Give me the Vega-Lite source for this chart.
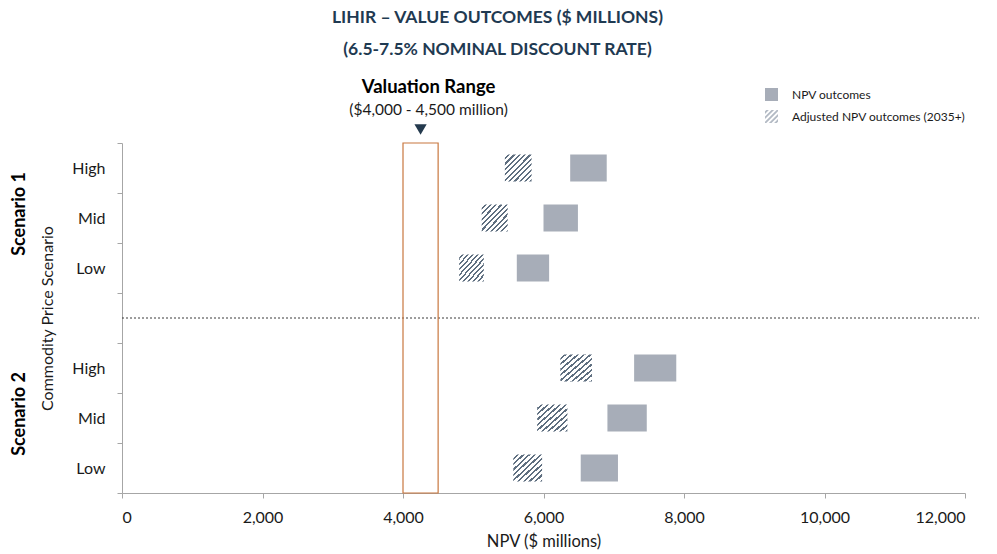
{
  "$schema": "https://vega.github.io/schema/vega-lite/v6.json",
  "autosize": {"type": "none"},
  "padding": {"left": 122, "top": 143, "right": 32, "bottom": 61},
  "width": 843,
  "height": 350,
  "background": "white",
  "config": {
    "font": "Lato",
    "view": {"stroke": null}
  },
  "title": {
    "text": ["LIHIR – VALUE OUTCOMES ($ MILLIONS)", "(6.5-7.5% NOMINAL DISCOUNT RATE)"],
    "fontSize": 17.5,
    "fontWeight": "bold",
    "color": "#1f3a52",
    "lineHeight": 32,
    "anchor": "middle",
    "frame": "group",
    "dx": -46,
    "offset": 20
  },
  "datasets": {
    "bars": [
      {"row": "S1 High", "type": "Adjusted NPV outcomes (2035+)", "low": 5450, "high": 5830},
      {"row": "S1 High", "type": "NPV outcomes", "low": 6380, "high": 6900},
      {"row": "S1 Mid", "type": "Adjusted NPV outcomes (2035+)", "low": 5120, "high": 5490},
      {"row": "S1 Mid", "type": "NPV outcomes", "low": 6000, "high": 6490},
      {"row": "S1 Low", "type": "Adjusted NPV outcomes (2035+)", "low": 4800, "high": 5150},
      {"row": "S1 Low", "type": "NPV outcomes", "low": 5620, "high": 6080},
      {"row": "S2 High", "type": "Adjusted NPV outcomes (2035+)", "low": 6240, "high": 6690},
      {"row": "S2 High", "type": "NPV outcomes", "low": 7290, "high": 7890},
      {"row": "S2 Mid", "type": "Adjusted NPV outcomes (2035+)", "low": 5910, "high": 6340},
      {"row": "S2 Mid", "type": "NPV outcomes", "low": 6910, "high": 7470},
      {"row": "S2 Low", "type": "Adjusted NPV outcomes (2035+)", "low": 5570, "high": 5980},
      {"row": "S2 Low", "type": "NPV outcomes", "low": 6530, "high": 7060}
    ],
    "annot": [
      {"row": "S1 High", "kind": "head", "text": "Valuation Range", "range_low": 4000, "range_high": 4500, "range_mid": 4250},
      {"row": "S1 High", "kind": "sub", "text": "($4,000 - 4,500 million)", "range_low": 4000, "range_high": 4500, "range_mid": 4250}
    ],
    "groups": [
      {"row": "S1 Mid", "text": "Scenario 1", "pos": -1450},
      {"row": "S2 Mid", "text": "Scenario 2", "pos": -1450}
    ],
    "divider": [{"row": "gap", "start": 0, "end": 12200}]
  },
  "layer": [
    {
      "data": {"name": "bars"},
      "transform": [{"filter": "datum.type === 'NPV outcomes'"}],
      "mark": {"type": "bar", "height": {"band": 0.54}},
      "encoding": {
        "x": {
          "field": "low", "type": "quantitative",
          "scale": {"domain": [0, 12000], "nice": false},
          "axis": {
            "values": [0, 2000, 4000, 6000, 8000, 10000, 12000],
            "labelExpr": "format(datum.value, ',')",
            "grid": false,
            "domainColor": "#a6a6a6",
            "tickColor": "#a6a6a6",
            "tickSize": 5,
            "labelFontSize": 16,
            "labelColor": "#1a1a1a",
            "labelPadding": 11,
            "title": "NPV ($ millions)",
            "titleFontSize": 16.5,
            "titleFontWeight": "normal",
            "titleColor": "#1a1a1a",
            "titlePadding": 8
          }
        },
        "x2": {"field": "high"},
        "y": {
          "field": "row", "type": "nominal",
          "scale": {
            "domain": ["S1 High", "S1 Mid", "S1 Low", "gap", "S2 High", "S2 Mid", "S2 Low"],
            "paddingInner": 0,
            "paddingOuter": 0
          },
          "axis": {
            "labelExpr": "(!isString(datum.value) || datum.value === 'gap') ? '' : substring(datum.value, 3)",
            "tickBand": "extent",
            "domainColor": "#a6a6a6",
            "tickColor": "#a6a6a6",
            "tickSize": 5,
            "labelFontSize": 16,
            "labelColor": "#1a1a1a",
            "labelPadding": 12,
            "title": "Commodity Price Scenario",
            "titleFontSize": 16,
            "titleFontWeight": "normal",
            "titleColor": "#1a1a1a",
            "titlePadding": 16
          }
        },
        "fill": {
          "field": "type", "type": "nominal",
          "scale": {
            "domain": ["NPV outcomes", "Adjusted NPV outcomes (2035+)"],
            "range": ["#a7adb8", "#b3bac4"]
          },
          "legend": {
            "orient": "none",
            "legendX": 643,
            "legendY": -55,
            "direction": "vertical",
            "title": null,
            "symbolType": "square",
            "symbolSize": 169,
            "symbolStrokeWidth": 0,
            "labelFontSize": 12,
            "labelColor": "#1a1a1a",
            "labelOffset": 14,
            "labelLimit": 400,
            "rowPadding": 9,
            "encode": {
              "symbols": {
                "update": {
                  "shape": [
                    {
                      "test": "datum.value === 'Adjusted NPV outcomes (2035+)'",
                      "value": "M-1,-0.8L-0.8,-1L-0.4,-1L-1,-0.4ZM-1,0L0,-1L0.4,-1L-1,0.4ZM-1,0.8L0.8,-1L1,-1L1,-0.8L-0.8,1L-1,1ZM-0.4,1L1,-0.4L1,0L0,1ZM0.4,1L1,0.4L1,0.8L0.8,1Z"
                    },
                    {"value": "square"}
                  ],
                  "opacity": {"value": 1}
                }
              }
            }
          }
        }
      }
    },
    {
      "data": {"name": "bars"},
      "transform": [{"filter": "datum.type !== 'NPV outcomes'"}],
      "mark": {
        "type": "bar",
        "height": {"band": 0.54},
        "fill": {
          "gradient": "linear", "x1": 0, "y1": 0, "x2": 1, "y2": 1,
          "stops": [
            {"offset": 0, "color": "#ffffff"}, {"offset": 0.06, "color": "#ffffff"}, {"offset": 0.06, "color": "#5f6f80"}, {"offset": 0.1, "color": "#5f6f80"},
            {"offset": 0.1, "color": "#ffffff"}, {"offset": 0.16, "color": "#ffffff"}, {"offset": 0.16, "color": "#5f6f80"}, {"offset": 0.2, "color": "#5f6f80"},
            {"offset": 0.2, "color": "#ffffff"}, {"offset": 0.26, "color": "#ffffff"}, {"offset": 0.26, "color": "#5f6f80"}, {"offset": 0.3, "color": "#5f6f80"},
            {"offset": 0.3, "color": "#ffffff"}, {"offset": 0.36, "color": "#ffffff"}, {"offset": 0.36, "color": "#5f6f80"}, {"offset": 0.4, "color": "#5f6f80"},
            {"offset": 0.4, "color": "#ffffff"}, {"offset": 0.46, "color": "#ffffff"}, {"offset": 0.46, "color": "#5f6f80"}, {"offset": 0.5, "color": "#5f6f80"},
            {"offset": 0.5, "color": "#ffffff"}, {"offset": 0.56, "color": "#ffffff"}, {"offset": 0.56, "color": "#5f6f80"}, {"offset": 0.6, "color": "#5f6f80"},
            {"offset": 0.6, "color": "#ffffff"}, {"offset": 0.66, "color": "#ffffff"}, {"offset": 0.66, "color": "#5f6f80"}, {"offset": 0.7, "color": "#5f6f80"},
            {"offset": 0.7, "color": "#ffffff"}, {"offset": 0.76, "color": "#ffffff"}, {"offset": 0.76, "color": "#5f6f80"}, {"offset": 0.8, "color": "#5f6f80"},
            {"offset": 0.8, "color": "#ffffff"}, {"offset": 0.86, "color": "#ffffff"}, {"offset": 0.86, "color": "#5f6f80"}, {"offset": 0.9, "color": "#5f6f80"},
            {"offset": 0.9, "color": "#ffffff"}, {"offset": 0.96, "color": "#ffffff"}, {"offset": 0.96, "color": "#5f6f80"}, {"offset": 1, "color": "#5f6f80"}
          ]
        }
      },
      "encoding": {
        "x": {"field": "low", "type": "quantitative"},
        "x2": {"field": "high"},
        "y": {"field": "row", "type": "nominal"}
      }
    },
    {
      "data": {"name": "divider"},
      "mark": {"type": "rule", "strokeDash": [2, 2], "color": "#3a3a3a", "strokeWidth": 1},
      "encoding": {
        "x": {"field": "start", "type": "quantitative"},
        "x2": {"field": "end"},
        "y": {"field": "row", "type": "nominal"}
      }
    },
    {
      "data": {"name": "groups"},
      "mark": {"type": "text", "angle": 270, "fontWeight": "bold", "fontSize": 18, "color": "#000000", "align": "center", "baseline": "middle", "dx": 4},
      "encoding": {
        "x": {"field": "pos", "type": "quantitative"},
        "y": {"field": "row", "type": "nominal"},
        "text": {"field": "text"}
      }
    },
    {
      "data": {"name": "annot"},
      "transform": [{"filter": "datum.kind === 'head'"}],
      "mark": {"type": "rect", "filled": false, "stroke": "#c8773f", "strokeWidth": 1.2},
      "encoding": {
        "x": {"field": "range_low", "type": "quantitative"},
        "x2": {"field": "range_high"}
      }
    },
    {
      "data": {"name": "annot"},
      "transform": [{"filter": "datum.kind === 'head'"}],
      "mark": {"type": "point", "shape": "triangle-down", "filled": true, "color": "#243a4e", "opacity": 1, "size": 150, "yOffset": -38.5},
      "encoding": {
        "x": {"field": "range_mid", "type": "quantitative"},
        "y": {"field": "row", "type": "nominal"}
      }
    },
    {
      "data": {"name": "annot"},
      "transform": [{"filter": "datum.kind === 'head'"}],
      "mark": {"type": "text", "fontWeight": "bold", "fontSize": 18.5, "color": "#000000", "dy": -81, "dx": 8, "baseline": "middle"},
      "encoding": {
        "x": {"field": "range_mid", "type": "quantitative"},
        "y": {"field": "row", "type": "nominal"},
        "text": {"field": "text"}
      }
    },
    {
      "data": {"name": "annot"},
      "transform": [{"filter": "datum.kind === 'sub'"}],
      "mark": {"type": "text", "fontSize": 15.5, "color": "#1a1a1a", "dy": -58, "dx": 8, "baseline": "middle"},
      "encoding": {
        "x": {"field": "range_mid", "type": "quantitative"},
        "y": {"field": "row", "type": "nominal"},
        "text": {"field": "text"}
      }
    }
  ]
}
